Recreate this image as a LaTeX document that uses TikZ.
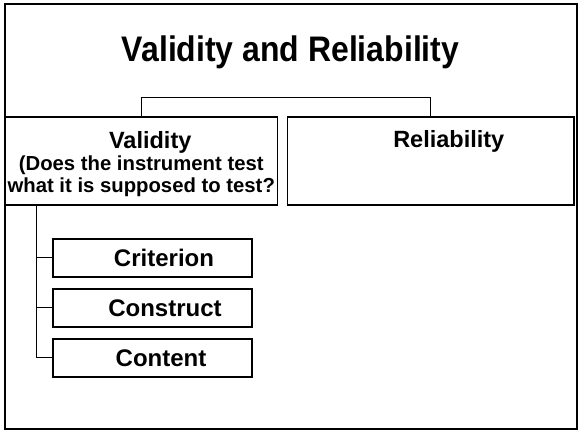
\documentclass[tikz,border=0pt]{standalone}
\usepackage{fontspec}
\setmainfont{Liberation Sans}
\newfontfamily\titlefont{Liberation Sans}[FakeStretch=0.9]
\usepackage{tikz}
\usetikzlibrary{calc,positioning}

\tikzset{
    frame/.style={draw, line width=1.8pt},
    box/.style={draw, line width=1.3pt, inner sep=0pt},
    subbox/.style={draw, line width=1.2pt, inner sep=0pt, minimum width=199pt,
        minimum height=38pt, font=\bfseries\fontsize{24}{28}\selectfont},
    link/.style={draw, line width=1pt}
}

\begin{document}
\begin{tikzpicture}[x=1pt,y=1pt]
        \useasboundingbox (0,0) rectangle (579,434);
        \draw[frame] (5,5) rectangle (577,430);
        \node[anchor=base, font=\titlefont\bfseries\fontsize{35.5}{40}\selectfont] (title) at (290.5,372) {Validity and Reliability};
        % second level
        \node[box, minimum width=272.5pt, minimum height=88pt] (valbox) at (141.25,273) {};
        \node[box, minimum width=286.5pt, minimum height=88pt] (relbox) at (430.75,273) {};
        \node[align=center, font=\bfseries\fontsize{20.3}{22}\selectfont] (valtext) at ([yshift=-3pt]valbox.center)
            {{\fontsize{23.5}{23}\selectfont\hspace*{18pt}Validity}\\(Does the instrument test\\what it is supposed to test?};
        \node[anchor=base, font=\bfseries\fontsize{23.5}{26}\selectfont] (reltext) at ([xshift=18pt,yshift=-31.3pt]relbox.north) {Reliability};
        \draw[link] (valbox.north) -- ++(0,19) -| (relbox.north);
        % kinds of validity
        \node[subbox] (criterion) at (152.5,176) {\hspace*{23pt}Criterion};
        \node[subbox] (construct) at (152.5,126) {\hspace*{25pt}Construct};
        \node[subbox] (content) at (152.5,76) {\hspace*{17pt}Content};
        \coordinate (spine) at ([xshift=32pt]valbox.south west);
        \draw[link] (spine) |- (content.west);
        \foreach \n in {criterion, construct}
        \draw[link] (spine |- \n.west) -- (\n.west);
    \end{tikzpicture}
\end{document}
